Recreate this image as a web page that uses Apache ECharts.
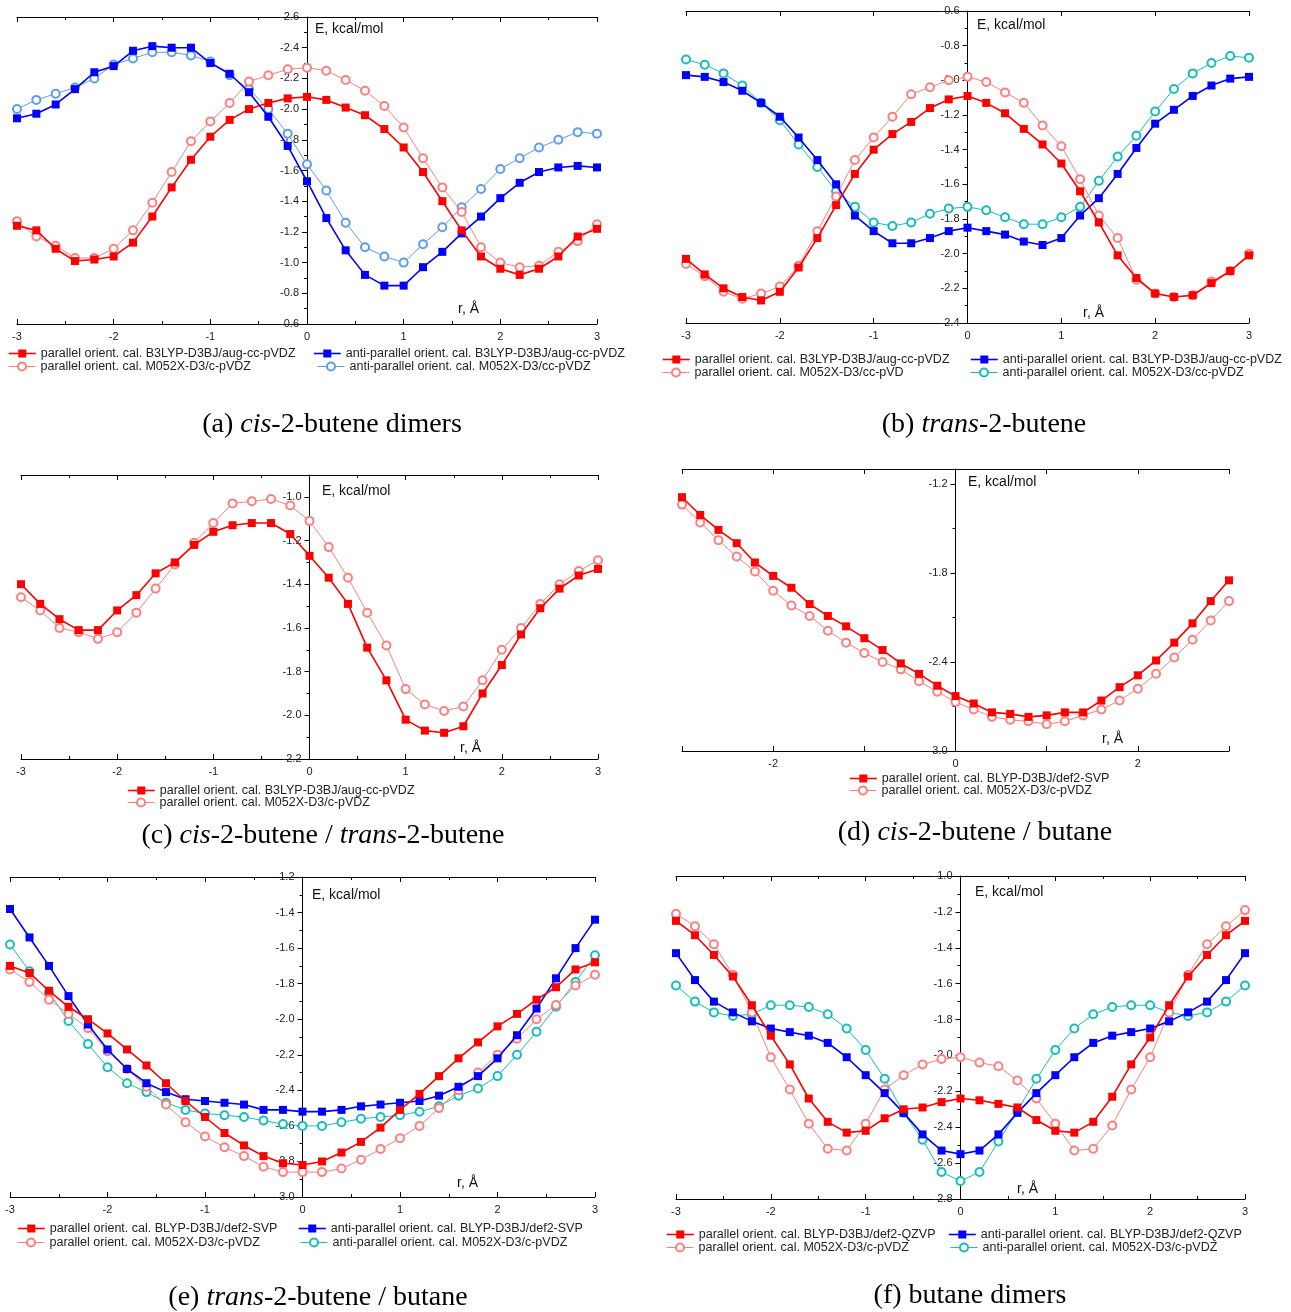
<!DOCTYPE html>
<html><head><meta charset="utf-8">
<script src="https://cdn.jsdelivr.net/npm/echarts@6/dist/echarts.min.js"></script>
<style>html,body{margin:0;padding:0;background:#fff}#c{width:1291px;height:1312px}</style>
</head><body><div id="c"></div>
<script>
// r, Angstrom
const R = [-3.0,-2.8,-2.6,-2.4,-2.2,-2.0,-1.8,-1.6,-1.4,-1.2,-1.0,-0.8,-0.6,-0.4,-0.2,0.0,0.2,0.4,0.6,0.8,1.0,1.2,1.4,1.6,1.8,2.0,2.2,2.4,2.6,2.8,3.0];

// (a) cis-2-butene dimers
const a_parB3  = [-1.24,-1.21,-1.09,-1.01,-1.02,-1.04,-1.13,-1.30,-1.49,-1.67,-1.82,-1.93,-2.00,-2.04,-2.07,-2.08,-2.06,-2.01,-1.96,-1.87,-1.75,-1.59,-1.40,-1.21,-1.04,-0.96,-0.92,-0.96,-1.04,-1.17,-1.22];
const a_parM05 = [-1.27,-1.17,-1.11,-1.03,-1.03,-1.09,-1.21,-1.39,-1.59,-1.79,-1.92,-2.04,-2.18,-2.22,-2.26,-2.27,-2.25,-2.19,-2.12,-2.02,-1.88,-1.68,-1.49,-1.33,-1.10,-1.00,-0.97,-0.98,-1.07,-1.14,-1.25];
const a_antiB3 = [-1.94,-1.97,-2.03,-2.13,-2.24,-2.28,-2.38,-2.41,-2.40,-2.40,-2.30,-2.23,-2.11,-1.95,-1.76,-1.53,-1.29,-1.08,-0.92,-0.85,-0.85,-0.97,-1.07,-1.19,-1.30,-1.42,-1.52,-1.59,-1.62,-1.63,-1.62];
const a_antiM05= [-2.00,-2.06,-2.10,-2.14,-2.20,-2.29,-2.33,-2.37,-2.37,-2.35,-2.31,-2.22,-2.13,-2.00,-1.84,-1.64,-1.47,-1.26,-1.10,-1.04,-1.00,-1.12,-1.23,-1.36,-1.48,-1.61,-1.68,-1.75,-1.80,-1.85,-1.84];

// (b) trans-2-butene
const b_parB3  = [-2.03,-2.12,-2.20,-2.25,-2.27,-2.22,-2.08,-1.91,-1.72,-1.54,-1.40,-1.31,-1.24,-1.16,-1.11,-1.09,-1.13,-1.19,-1.28,-1.37,-1.48,-1.64,-1.82,-2.01,-2.14,-2.23,-2.25,-2.24,-2.17,-2.10,-2.01];
const b_parM05 = [-2.06,-2.13,-2.22,-2.26,-2.23,-2.19,-2.07,-1.87,-1.67,-1.46,-1.33,-1.21,-1.08,-1.04,-1.00,-0.98,-1.01,-1.07,-1.13,-1.26,-1.38,-1.57,-1.78,-1.91,-2.15,-2.23,-2.25,-2.24,-2.16,-2.10,-2.00];
const b_antiB3 = [-0.97,-0.98,-1.01,-1.06,-1.13,-1.21,-1.33,-1.46,-1.60,-1.78,-1.87,-1.94,-1.94,-1.91,-1.87,-1.85,-1.87,-1.89,-1.93,-1.95,-1.91,-1.78,-1.68,-1.54,-1.39,-1.25,-1.17,-1.09,-1.03,-0.99,-0.98];
const b_antiM05= [-0.88,-0.91,-0.96,-1.03,-1.13,-1.23,-1.37,-1.50,-1.64,-1.73,-1.82,-1.84,-1.82,-1.77,-1.74,-1.73,-1.75,-1.79,-1.83,-1.83,-1.79,-1.73,-1.58,-1.44,-1.32,-1.18,-1.05,-0.96,-0.90,-0.86,-0.87];

// (c) cis-2-butene / trans-2-butene
const c_parB3  = [-1.40,-1.49,-1.56,-1.61,-1.61,-1.52,-1.45,-1.35,-1.30,-1.22,-1.16,-1.13,-1.12,-1.12,-1.17,-1.27,-1.37,-1.49,-1.69,-1.84,-2.02,-2.07,-2.08,-2.05,-1.90,-1.77,-1.63,-1.51,-1.42,-1.36,-1.33];
const c_parM05 = [-1.46,-1.52,-1.60,-1.62,-1.65,-1.62,-1.53,-1.42,-1.31,-1.21,-1.12,-1.03,-1.02,-1.01,-1.04,-1.11,-1.23,-1.37,-1.53,-1.68,-1.88,-1.95,-1.98,-1.96,-1.84,-1.70,-1.60,-1.49,-1.40,-1.34,-1.29];

// (d) cis-2-butene / butane
const d_parBL  = [-1.29,-1.41,-1.51,-1.60,-1.73,-1.82,-1.90,-2.01,-2.09,-2.16,-2.24,-2.32,-2.41,-2.48,-2.56,-2.63,-2.68,-2.74,-2.75,-2.77,-2.76,-2.74,-2.74,-2.66,-2.57,-2.49,-2.39,-2.27,-2.14,-1.99,-1.85];
const d_parM05 = [-1.34,-1.46,-1.58,-1.69,-1.79,-1.92,-2.02,-2.09,-2.19,-2.27,-2.34,-2.40,-2.45,-2.53,-2.60,-2.67,-2.72,-2.77,-2.79,-2.80,-2.82,-2.80,-2.76,-2.72,-2.66,-2.58,-2.48,-2.37,-2.25,-2.12,-1.99];

// (e) trans-2-butene / butane
const e_parBL  = [-1.70,-1.74,-1.84,-1.93,-2.00,-2.08,-2.17,-2.26,-2.36,-2.46,-2.55,-2.64,-2.71,-2.77,-2.81,-2.82,-2.80,-2.75,-2.69,-2.61,-2.51,-2.42,-2.32,-2.22,-2.13,-2.04,-1.97,-1.89,-1.82,-1.72,-1.68];
const e_parM05 = [-1.72,-1.79,-1.89,-1.97,-2.05,-2.18,-2.28,-2.38,-2.48,-2.58,-2.66,-2.72,-2.77,-2.83,-2.86,-2.86,-2.86,-2.84,-2.79,-2.73,-2.67,-2.60,-2.50,-2.40,-2.30,-2.20,-2.11,-2.00,-1.92,-1.81,-1.75];
const e_antiBL = [-1.38,-1.54,-1.70,-1.87,-2.03,-2.17,-2.28,-2.36,-2.41,-2.45,-2.46,-2.47,-2.48,-2.51,-2.51,-2.52,-2.52,-2.51,-2.49,-2.48,-2.47,-2.46,-2.43,-2.38,-2.32,-2.22,-2.09,-1.94,-1.77,-1.60,-1.44];
const e_antiM05= [-1.58,-1.73,-1.85,-2.01,-2.14,-2.27,-2.36,-2.41,-2.47,-2.51,-2.53,-2.54,-2.55,-2.57,-2.59,-2.60,-2.60,-2.58,-2.56,-2.55,-2.54,-2.52,-2.49,-2.43,-2.39,-2.32,-2.20,-2.07,-1.93,-1.79,-1.64];

// (f) butane dimers
const f_parBL  = [-1.25,-1.33,-1.44,-1.56,-1.72,-1.89,-2.05,-2.24,-2.37,-2.43,-2.42,-2.35,-2.30,-2.29,-2.26,-2.24,-2.25,-2.27,-2.29,-2.36,-2.42,-2.43,-2.37,-2.23,-2.05,-1.90,-1.72,-1.56,-1.44,-1.33,-1.25];
const f_parM05 = [-1.21,-1.28,-1.38,-1.55,-1.76,-2.01,-2.19,-2.38,-2.52,-2.53,-2.38,-2.19,-2.11,-2.05,-2.02,-2.01,-2.04,-2.06,-2.14,-2.24,-2.38,-2.53,-2.52,-2.39,-2.19,-2.01,-1.76,-1.55,-1.38,-1.28,-1.19];
const f_antiBL = [-1.43,-1.58,-1.70,-1.76,-1.81,-1.85,-1.87,-1.89,-1.93,-2.01,-2.11,-2.21,-2.32,-2.44,-2.53,-2.55,-2.53,-2.44,-2.32,-2.21,-2.11,-2.01,-1.93,-1.89,-1.87,-1.85,-1.81,-1.76,-1.70,-1.58,-1.43];
const f_antiM05= [-1.61,-1.70,-1.76,-1.78,-1.77,-1.72,-1.72,-1.73,-1.77,-1.85,-1.97,-2.13,-2.32,-2.47,-2.65,-2.70,-2.65,-2.48,-2.31,-2.13,-1.97,-1.85,-1.77,-1.73,-1.72,-1.72,-1.76,-1.78,-1.76,-1.70,-1.61];

// Series names (legend texts)
const N_parB3   = 'parallel orient. cal. B3LYP-D3BJ/aug-cc-pVDZ';
const N_antiB3  = 'anti-parallel orient. cal. B3LYP-D3BJ/aug-cc-pVDZ';
const N_parM05c = 'parallel orient. cal. M052X-D3/c-pVDZ';
const N_antiM05cc = 'anti-parallel orient. cal. M052X-D3/cc-pVDZ';
const N_parM05b = 'parallel orient. cal. M052X-D3/cc-pVD';
const N_parBLs  = 'parallel orient. cal. BLYP-D3BJ/def2-SVP';
const N_antiBLs = 'anti-parallel orient. cal. BLYP-D3BJ/def2-SVP';
const N_antiM05c = 'anti-parallel orient. cal. M052X-D3/c-pVDZ';
const N_parBLq  = 'parallel orient. cal. BLYP-D3BJ/def2-QZVP';
const N_antiBLq = 'anti-parallel orient. cal. BLYP-D3BJ/def2-QZVP';

const ST = {
  red:   {symbol:'rect', color:'#ff0000', w:1.6, size:8},
  lred:  {symbol:'emptyCircle', color:'#ff7f7f', w:1, size:8},
  blue:  {symbol:'rect', color:'#0000ff', w:1.6, size:8},
  lblue: {symbol:'emptyCircle', color:'#5f9cf0', w:1, size:8},
  cyan:  {symbol:'emptyCircle', color:'#17bdbd', w:1, size:8}
};

const panels = [
  {box:[17,17,580,307], y:[-2.6,-0.6,0.2], inv:true, bMinor:true, tMinor:true, every:1,
   series:[[N_antiM05cc,a_antiM05,'lblue'],[N_parM05c,a_parM05,'lred'],[N_antiB3,a_antiB3,'blue'],[N_parB3,a_parB3,'red']],
   legend:[[N_parB3,'red',8,353],[N_antiB3,'blue',313,353],[N_parM05c,'lred',8,366],[N_antiM05cc,'lblue',317,366]],
   E:[315,29], r:[458,309], cap:['(a) {i|cis}-2-butene dimers',332,425]},
  {box:[686,11,563,312], y:[-2.4,-0.6,0.2], inv:false, bMinor:false, tMinor:false, every:1,
   series:[[N_antiM05cc,b_antiM05,'cyan'],[N_parM05b,b_parM05,'lred'],[N_antiB3,b_antiB3,'blue'],[N_parB3,b_parB3,'red']],
   legend:[[N_parB3,'red',662,359],[N_antiB3,'blue',970,359],[N_parM05b,'lred',662,372],[N_antiM05cc,'cyan',970,372]],
   E:[977,25], r:[1083,313], cap:['(b) {i|trans}-2-butene',984,425]},
  {box:[21,475,577,284], y:[-2.2,-0.9,0.2], inv:false, bMinor:true, tMinor:true, every:1, hideMax:true,
   series:[[N_parM05c,c_parM05,'lred'],[N_parB3,c_parB3,'red']],
   legend:[[N_parB3,'red',127,790],[N_parM05c,'lred',127,802]],
   E:[322,491], r:[460,748], cap:['(c) {i|cis}-2-butene / {i|trans}-2-butene',323,836]},
  {box:[682,469,547,282], y:[-3.0,-1.1,0.6], inv:false, bMinor:false, tMinor:false, every:2, hideMax:true,
   series:[[N_parM05c,d_parM05,'lred'],[N_parBLs,d_parBL,'red']],
   legend:[[N_parBLs,'red',849,778],[N_parM05c,'lred',849,790]],
   E:[968,482], r:[1102,739], cap:['(d) {i|cis}-2-butene / butane',975,833]},
  {box:[10,877,585,320], y:[-3.0,-1.2,0.2], inv:false, bMinor:true, tMinor:true, every:1,
   series:[[N_antiM05c,e_antiM05,'cyan'],[N_parM05c,e_parM05,'lred'],[N_antiBLs,e_antiBL,'blue'],[N_parBLs,e_parBL,'red']],
   legend:[[N_parBLs,'red',17,1228],[N_antiBLs,'blue',298,1228],[N_parM05c,'lred',17,1242],[N_antiM05c,'cyan',300,1242]],
   E:[312,895], r:[457,1183], cap:['(e) {i|trans}-2-butene / butane',318,1298]},
  {box:[676,876,569,323], y:[-2.8,-1.0,0.2], inv:false, bMinor:true, tMinor:true, every:1,
   series:[[N_antiM05c,f_antiM05,'cyan'],[N_parM05c,f_parM05,'lred'],[N_antiBLq,f_antiBL,'blue'],[N_parBLq,f_parBL,'red']],
   legend:[[N_parBLq,'red',666,1234],[N_antiBLq,'blue',948,1234],[N_parM05c,'lred',666,1247],[N_antiM05c,'cyan',950,1247]],
   E:[975,892], r:[1017,1189], cap:['(f) butane dimers',970,1296]}
];

const AX = {color:'#000', width:1};
const LBL = {fontSize:11, color:'#222', fontFamily:'Liberation Sans'};
const grid=[], xAxis=[], yAxis=[], series=[], legend=[], graphic=[];

panels.forEach((p, g) => {
  grid.push({left:p.box[0], top:p.box[1], width:p.box[2], height:p.box[3], containLabel:false});
  xAxis.push({type:'value', gridIndex:g, min:-3, max:3, interval:1, position:'bottom',
    axisLine:{onZero:false, lineStyle:AX},
    axisTick:{inside:true, length:5, lineStyle:AX},
    minorTick:{show:p.bMinor, splitNumber:2, length:3, lineStyle:AX},
    splitLine:{show:false}, minorSplitLine:{show:false},
    axisLabel:Object.assign({margin:7, formatter: v => (Math.round(v) % p.every === 0 ? String(Math.round(v)) : '')}, LBL)});
  xAxis.push({type:'value', gridIndex:g, min:-3, max:3, interval:1, position:'top',
    axisLine:{onZero:false, lineStyle:AX},
    axisTick:{inside:true, length:5, lineStyle:AX},
    minorTick:{show:p.tMinor, splitNumber:2, length:3, lineStyle:AX},
    splitLine:{show:false}, axisLabel:{show:false}});
  // y axis placed at r = 0 (middle of the symmetric x range)
  yAxis.push({type:'value', gridIndex:g, min:p.y[0], max:p.y[1], interval:p.y[2], inverse:p.inv,
    position:'left', offset: -p.box[2] / 2,
    axisLine:{onZero:false, lineStyle:AX},
    axisTick:{inside:false, length:5, lineStyle:AX},
    minorTick:{show:true, splitNumber:2, length:3, lineStyle:AX},
    splitLine:{show:false},
    axisLabel:Object.assign({margin:8, showMaxLabel: !p.hideMax, formatter: v => v.toFixed(1)}, LBL)});
  p.series.forEach(([name, vals, sk], k) => {
    const s = ST[sk];
    series.push({type:'line', name, xAxisIndex:2*g, yAxisIndex:g,
      data: R.map((r, i) => [r, vals[i]]),
      symbol:s.symbol, symbolSize:s.size, showAllSymbol:true,
      lineStyle:{color:s.color, width:s.w},
      itemStyle:{color:s.color, borderColor:s.color, borderWidth: s.symbol==='rect'?0:1},
      emphasis:{disabled:true}, silent:true, animation:false, clip:false, z:2+k});
  });
  p.legend.forEach(([name, sk, lx, cy]) => {
    const s = ST[sk];
    legend.push({left:lx, top:cy-6, padding:0, itemWidth:27, itemHeight:10, selectedMode:false,
      textStyle:{fontSize:12.5, color:'#222', fontFamily:'Liberation Sans'},
      data:[{name, itemStyle:{color:s.color, borderColor:s.color}, lineStyle:{color:s.color, width:s.w}}]});
  });
  graphic.push({type:'text', x:p.E[0], y:p.E[1], silent:true,
    style:{text:'E, kcal/mol', font:'14px "Liberation Sans"', fill:'#111', align:'left', verticalAlign:'middle', textAlign:'left', textVerticalAlign:'middle'}});
  graphic.push({type:'text', x:p.r[0], y:p.r[1], silent:true,
    style:{text:'r, Å', font:'14px "Liberation Sans"', fill:'#111', align:'left', verticalAlign:'middle', textAlign:'left', textVerticalAlign:'middle'}});
  graphic.push({type:'text', x:p.cap[1], y:p.cap[2], silent:true,
    style:{text:p.cap[0], font:'28px "Liberation Serif"', fill:'#000', align:'center', verticalAlign:'middle', textAlign:'center', textVerticalAlign:'middle',
      rich:{i:{font:'italic 28px "Liberation Serif"', fontStyle:'italic', fontSize:28, fontFamily:'Liberation Serif', fill:'#000'}}}});
});

const chart = echarts.init(document.getElementById('c'), null, {renderer:'canvas'});
chart.setOption({animation:false, backgroundColor:'#fff', grid, xAxis, yAxis, series, legend, graphic});
</script></body></html>
